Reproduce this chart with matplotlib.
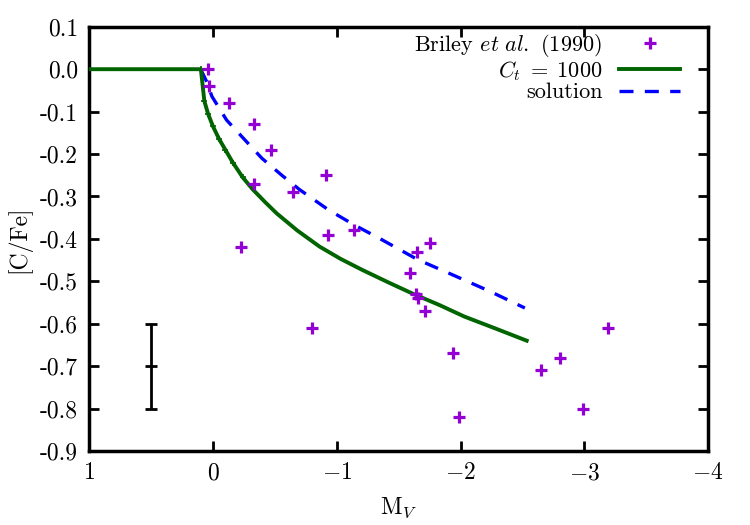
import matplotlib
matplotlib.use('Agg')
import matplotlib.pyplot as plt
import numpy as np

plt.rcParams['font.family'] = 'serif'
plt.rcParams['font.serif'] = ['cmr10']
plt.rcParams['mathtext.fontset'] = 'cm'
plt.rcParams['axes.unicode_minus'] = False
plt.rcParams['axes.formatter.use_mathtext'] = True

# Briley et al. (1990) observations
obs_mv = [0.04, 0.03, -0.13, -0.33, -0.47, -0.91, -0.33, -0.645,
          -0.93, -1.14, -0.23, -1.75, -1.65, -1.59, -1.64, -1.66,
          -1.71, -0.80, -3.19, -1.94, -2.80, -2.65, -2.99, -1.99]
obs_cfe = [0.0, -0.04, -0.08, -0.13, -0.19, -0.25, -0.27, -0.29,
           -0.39, -0.38, -0.42, -0.41, -0.43, -0.48, -0.53, -0.54,
           -0.57, -0.61, -0.61, -0.67, -0.68, -0.71, -0.80, -0.82]

# model C_t = 1000
ct_mv = [1.0, 0.098, 0.07, 0.04, 0.0, -0.05, -0.10, -0.16, -0.24, -0.32,
         -0.42, -0.515, -0.68, -0.86, -1.03, -1.205, -1.42, -1.62, -1.83,
         -2.03, -2.28, -2.535]
ct_cfe = [0.0, 0.0, -0.075, -0.105, -0.135, -0.165, -0.19, -0.22, -0.255, -0.283,
          -0.313, -0.34, -0.38, -0.418, -0.447, -0.473, -0.503, -0.53, -0.556,
          -0.583, -0.611, -0.64]

# solution
sol_mv = [0.10, 0.05, 0.009, -0.11, -0.246, -0.395, -0.556, -0.70, -0.93,
          -1.14, -1.34, -1.655, -1.93, -2.24, -2.52]
sol_cfe = [0.0, -0.03, -0.064, -0.12, -0.163, -0.21, -0.25, -0.284, -0.331,
           -0.367, -0.398, -0.449, -0.484, -0.524, -0.563]

# typical error bar
err_mv, err_cfe, err_size = 0.5, -0.7, 0.1

fig = plt.figure(figsize=(7.5, 5.25), dpi=100)
ax = fig.add_axes([0.119, 0.141, 0.825, 0.808])

ax.plot(obs_mv, obs_cfe, linestyle='none', marker='+', color='#9400D3',
        markersize=8.5, markeredgewidth=2.3, label=r'Briley $\mathit{et\ al.}$ (1990)', zorder=4)
ax.plot(ct_mv, ct_cfe, color='#006400', linewidth=2.8, label=r'$C_t\;=\;1000$', zorder=3)
# small point marks along the upper part of the model curve
ax.plot(ct_mv[1:9], ct_cfe[1:9], linestyle='none', marker='+', color='#006400',
        markersize=5, markeredgewidth=1.2, zorder=3)
ax.plot(sol_mv, sol_cfe, color='#0000FF', linewidth=2.4, dashes=(4.2, 3.4),
        label='solution', zorder=2)
ax.errorbar(err_mv, err_cfe, yerr=err_size, color='black', linewidth=2,
            capsize=4, capthick=2, marker='_', markersize=9, markeredgewidth=2)

ax.set_xlim(1, -4)
ax.set_ylim(-0.9, 0.1)
ax.set_xticks([1, 0, -1, -2, -3, -4])
ax.set_xticklabels(['$1$', '$0$', '$-1$', '$-2$', '$-3$', '$-4$'])
yt = np.round(np.arange(-0.9, 0.11, 0.1), 1)
ax.set_yticks(yt)
ax.set_yticklabels(['%.1f' % v if v != 0 else '0.0' for v in yt])
ax.tick_params(direction='in', length=7, width=2, top=True, right=True,
               labelsize=17, pad=8)
for s in ax.spines.values():
    s.set_linewidth(2.5)

ax.set_xlabel(r'M$_V$', fontsize=17, labelpad=8)
ax.set_ylabel('[C/Fe]', fontsize=17, labelpad=6)

ax.legend(loc='upper right', bbox_to_anchor=(0.9625, 0.998), frameon=False,
          markerfirst=False, fontsize=16, handlelength=2.75, handletextpad=0.76,
          labelspacing=0.0, borderaxespad=0, borderpad=0.2)

fig.savefig('out.png', dpi=100)
